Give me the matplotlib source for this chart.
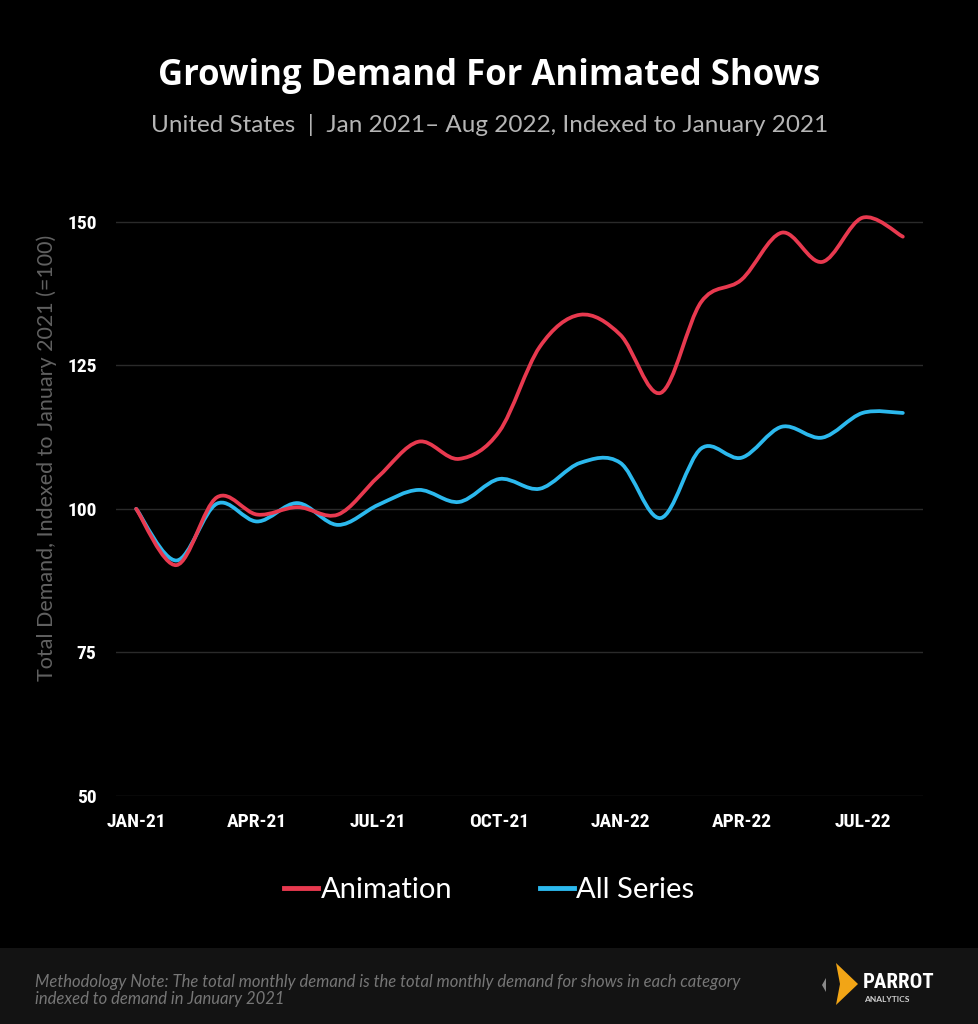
import matplotlib

matplotlib.use("Agg")
import matplotlib.pyplot as plt  # noqa: E402
from matplotlib.lines import Line2D  # noqa: E402
from matplotlib.patches import PathPatch, Polygon, Rectangle  # noqa: E402
from matplotlib.path import Path  # noqa: E402
from matplotlib import font_manager  # noqa: E402

MONTHS = ["JAN-21", "FEB-21", "MAR-21", "APR-21", "MAY-21", "JUN-21", "JUL-21",
          "AUG-21", "SEP-21", "OCT-21", "NOV-21", "DEC-21", "JAN-22", "FEB-22",
          "MAR-22", "APR-22", "MAY-22", "JUN-22", "JUL-22", "AUG-22"]
ANIMATION = [100, 90.2, 102.0, 99.0, 100.3, 99.0, 105.6, 111.7, 108.7, 113.5,
             128.2, 133.8, 130.3, 120.2, 136.0, 139.9, 148.1, 143.0, 150.7, 147.4]
ALL_SERIES = [100, 91.0, 100.9, 97.8, 101.0, 97.2, 100.7, 103.3, 101.2, 105.2,
              103.5, 108.0, 108.0, 98.4, 110.5, 108.9, 114.3, 112.4, 116.7, 116.7]
TICK_EVERY = 3
Y_TICKS = [50, 75, 100, 125, 150]

RED = "#E8394F"
BLUE = "#2CB9EE"

_fonts = font_manager.fontManager.ttflist
_names = {f.name for f in _fonts}
_condensed = [f.name for f in _fonts if "condensed" in str(f.stretch).lower()
              or "narrow" in f.name.lower() or "condensed" in f.name.lower()]
NARROW = [n for n in ["Liberation Sans Narrow", "DejaVu Sans Condensed", "Roboto Condensed",
                      "Open Sans Condensed"] if n in _names] or (_condensed[:1] + ["DejaVu Sans"])
ROUND = [n for n in ["Lato", "Noto Sans", "DejaVu Sans"] if n in _names]


def smooth_path(xs, ys):
    """Catmull-Rom style cubic Bezier through the monthly points."""
    pts = list(zip(xs, ys))
    verts = [pts[0]]
    codes = [Path.MOVETO]
    n = len(pts)
    for i in range(n - 1):
        p0 = pts[max(i - 1, 0)]
        p1 = pts[i]
        p2 = pts[i + 1]
        p3 = pts[min(i + 2, n - 1)]
        c1 = (p1[0] + (p2[0] - p0[0]) / 6, p1[1] + (p2[1] - p0[1]) / 6)
        c2 = (p2[0] - (p3[0] - p1[0]) / 6, p2[1] - (p3[1] - p1[1]) / 6)
        verts += [c1, c2, p2]
        codes += [Path.CURVE4] * 3
    return Path(verts, codes)


fig = plt.figure(figsize=(9.79, 10.24), dpi=100, facecolor="black")
ax = fig.add_axes([0.1185, 0.2227, 0.8243, 0.5888], facecolor="black")

x = list(range(len(MONTHS)))
for vals, col in [(ALL_SERIES, BLUE), (ANIMATION, RED)]:
    ax.add_patch(PathPatch(smooth_path(x, vals), fill=False, edgecolor=col,
                           lw=2.7, capstyle="round", joinstyle="round", zorder=3))

ax.set_xlim(-0.5, 19.5)
ax.set_ylim(50, 155)
ax.set_yticks(Y_TICKS)
ax.set_yticklabels([str(v) for v in Y_TICKS])
ax.set_xticks(x[::TICK_EVERY])
ax.set_xticklabels(MONTHS[::TICK_EVERY])
ax.grid(axis="y", color="#2a2a2a", lw=1.0)
ax.set_axisbelow(True)
for s in ax.spines.values():
    s.set_visible(False)
ax.tick_params(length=0, colors="white", labelsize=14, pad=12)
ax.tick_params(axis="y", pad=14)
for lab in ax.get_xticklabels() + ax.get_yticklabels():
    lab.set_family(NARROW)
    lab.set_fontweight("bold")
    lab.set_fontstretch("condensed")
ax.set_ylabel("Total Demand, Indexed to January 2021 (=100)", color="#616161",
              fontsize=15.5, family=ROUND)
ax.yaxis.set_label_coords(-0.073, 0.56)

fig.text(0.5, 1 - 76 / 1024, "Growing Demand For Animated Shows", ha="center", va="center",
         color="white", fontsize=25, fontweight="bold", family=["Open Sans"] + ROUND)
fig.text(0.5, 1 - 125 / 1024,
         "United States  |  Jan 2021\u2013 Aug 2022, Indexed to January 2021",
         ha="center", va="center", color="#b5b5b5", fontsize=17.5, family=ROUND)

handles = [Line2D([], [], color=RED, lw=3.5), Line2D([], [], color=BLUE, lw=3.5)]
fig.legend(handles, ["Animation", "All Series"], loc="center",
           bbox_to_anchor=(0.5, 1 - 890 / 1024), ncol=2, frameon=False,
           prop={"family": ROUND, "size": 21}, labelcolor="white",
           handlelength=1.15, handletextpad=0.1, columnspacing=3.0)

# footer band
fig.patches.append(Rectangle((0, 0), 1, 76 / 1024, transform=fig.transFigure,
                             facecolor="#131313", edgecolor="none", zorder=0))
fig.text(35 / 979, 1 - 982 / 1024,
         "Methodology Note: The total monthly demand is the total monthly demand for shows in each category",
         ha="left", va="center", color="#767676", fontsize=12, style="italic", family=ROUND)
fig.text(35 / 979, 1 - 999 / 1024, "indexed to demand in January 2021",
         ha="left", va="center", color="#767676", fontsize=12, style="italic", family=ROUND)


# logo
def fx(px):
    return px / 979


def fy(py):
    return 1 - py / 1024


fig.patches.append(Polygon([(fx(836), fy(963)), (fx(858), fy(984)), (fx(836), fy(1005)),
                            (fx(840), fy(984))], closed=True, transform=fig.transFigure,
                           facecolor="#F2A516", edgecolor="none"))
fig.patches.append(Polygon([(fx(826), fy(978)), (fx(826), fy(992)), (fx(822), fy(985))],
                           closed=True, transform=fig.transFigure,
                           facecolor="#8a8a8a", edgecolor="none"))
fig.text(fx(863), fy(982), "PARROT", ha="left", va="center", color="white",
         fontsize=15, fontweight="bold", family=NARROW, fontstretch="condensed")
fig.text(fx(864), fy(1000), "ANALYTICS", ha="left", va="center", color="#cfcfcf",
         fontsize=6, fontweight="bold", family=ROUND)

fig.savefig("out.png", dpi=100, facecolor="black")
